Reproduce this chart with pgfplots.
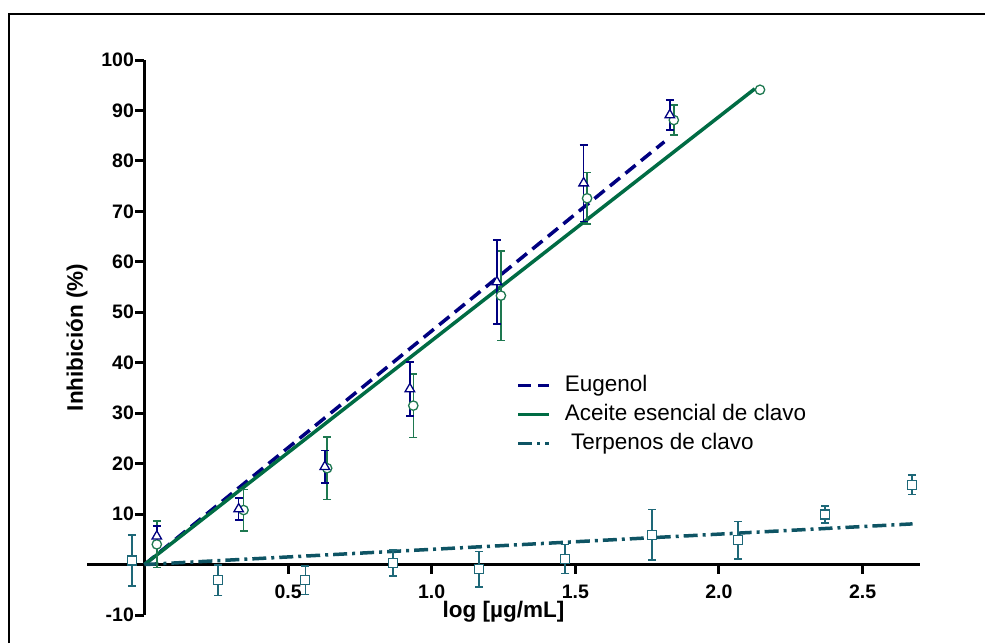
\documentclass[border=0pt]{standalone}
\usepackage{pgfplots}
\pgfplotsset{compat=1.18}
\usepackage{fontspec}
\setmainfont{Liberation Sans}

\definecolor{eug}{RGB}{0,0,128}
\definecolor{ace}{RGB}{0,108,68}
\definecolor{acemk}{RGB}{30,120,80}
\definecolor{ter}{RGB}{14,84,100}
\definecolor{termk}{RGB}{30,104,120}

\begin{document}
\begin{tikzpicture}
\useasboundingbox (0pt,0pt) rectangle (985pt,-643pt);
\draw[line width=2pt] (8.5pt,-643pt) -- (8.5pt,-14pt) -- (985pt,-14pt);
\begin{axis}[
  at={(87pt,-615pt)}, anchor=south west,
  width=833pt, height=555pt, scale only axis,
  xmin=-0.2, xmax=2.7, ymin=-10, ymax=100,
  axis lines=middle,
  axis line style={line width=3pt, -},
  xtick={0.5,1,1.5,2,2.5},
  ytick={-10,10,20,30,40,50,60,70,80,90,100},
  tick align=outside,
  major tick length=9pt,
  tick style={line width=3pt, black},
  /pgf/number format/assume math mode=true,
  ticklabel style={font=\fontsize{19.5}{22}\selectfont\bfseries},
  xticklabel style={yshift=-8pt, /pgf/number format/.cd, fixed, fixed zerofill, precision=1},
  yticklabel style={xshift=2pt, /pgf/number format/.cd, fixed, precision=0},
  xlabel={log [µg/mL]},
  ylabel={Inhibición (\%)},
  label style={font=\fontsize{22.5}{26}\selectfont\bfseries},
  xlabel style={at={(rel axis cs:0.5,0.006)}, anchor=center},
  ylabel style={at={(rel axis cs:-0.012,0.5)}, anchor=center, rotate=90},
  legend style={at={(axis cs:1.294,37.6)}, anchor=north west, draw=none, fill=none,
    font=\fontsize{22.5}{26}\selectfont, inner sep=0pt, row sep=8pt, column sep=14pt,
    nodes={inner sep=0pt, text height=16pt, text depth=5pt}},
  legend cell align=left,
  legend image code/.code={\draw[#1] (0pt,0pt) -- (31pt,0pt);},
  clip=false,
]
% fitted lines
\addplot[eug, line width=3.5pt, dash pattern=on 13pt off 7pt] coordinates {(0,0) (1.81,83.8)};
\addlegendentry{Eugenol}
\addplot[ace, line width=3.5pt] coordinates {(0,0) (2.125,94.3)};
\addlegendentry{Aceite esencial de clavo}
\addplot[ter, line width=3.5pt, dash pattern=on 14pt off 5pt on 3pt off 5pt] coordinates {(0,0) (2.674,8.06)};
\addlegendentry{~Terpenos de clavo}

% Terpenos data
\addplot[forget plot, termk, only marks, mark=square*, mark size=4.5pt,
  mark options={fill=white, draw=termk, line width=1.3pt},
  error bars/.cd, y dir=both, y explicit,
  error bar style={line width=1.6pt, termk},
  error mark options={rotate=90, mark size=4pt, line width=1.6pt, termk}]
coordinates {
(-0.044,0.8) +- (0,5.1)
(0.257,-3.1) +- (0,3.0)
(0.560,-3.1) +- (0,2.8)
(0.866,0.3) +- (0,2.6)
(1.165,-0.9) +- (0,3.5)
(1.465,1.1) +- (0,2.9)
(1.767,5.9) +- (0,5.0)
(2.067,4.8) +- (0,3.7)
(2.370,9.9) +- (0,1.7)
(2.672,15.8) +- (0,1.9)
};

% Aceite data
\addplot[forget plot, acemk, only marks, mark=*, mark size=4.7pt,
  mark options={fill=white, draw=acemk, line width=1.3pt},
  error bars/.cd, y dir=both, y explicit,
  error bar style={line width=1.6pt, acemk},
  error mark options={rotate=90, mark size=4pt, line width=1.6pt, acemk}]
coordinates {
(0.043,4.0) +- (0,4.6)
(0.345,10.8) +- (0,4.1)
(0.636,19.1) +- (0,6.2)
(0.936,31.5) +- (0,6.3)
(1.241,53.3) +- (0,8.9)
(1.541,72.6) +- (0,5.1)
(1.843,88.1) +- (0,3.0)
};
\addplot[forget plot, acemk, only marks, mark=*, mark size=4.7pt,
  mark options={fill=white, draw=acemk, line width=1.3pt}]
coordinates {(2.143,94.1)};

% Eugenol data
\addplot[forget plot, eug, only marks, mark=triangle*, mark size=5.5pt,
  mark options={fill=white, draw=eug, line width=1.3pt},
  error bars/.cd, y dir=both, y explicit,
  error bar style={line width=1.6pt, eug},
  error mark options={rotate=90, mark size=4pt, line width=1.6pt, eug}]
coordinates {
(0.043,5.6) +- (0,2.1)
(0.328,11.0) +- (0,2.2)
(0.628,19.4) +- (0,3.2)
(0.924,34.8) +- (0,5.4)
(1.227,56.0) +- (0,8.3)
(1.529,75.6) +- (0,7.6)
(1.829,89.1) +- (0,3.0)
};
\end{axis}
\end{tikzpicture}
\end{document}
